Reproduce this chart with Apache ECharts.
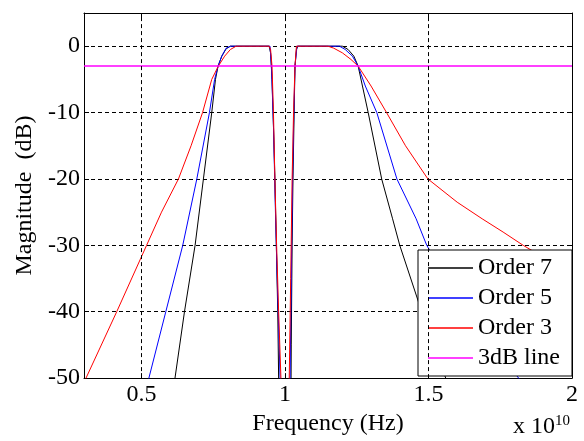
<!DOCTYPE html>
<html>
<head>
<meta charset="utf-8">
<script src="https://cdn.jsdelivr.net/npm/echarts@6/dist/echarts.min.js"></script>
<style>
  html, body { margin: 0; padding: 0; background: #fff; }
  #chart { width: 584px; height: 441px; }
</style>
</head>
<body>
<div id="chart"></div>
<script>
// frequency in units of 1e10 Hz, magnitude in dB
var order7 = [
    [0.600, -58], [0.617, -50], [0.650, -40], [0.687, -30], [0.716, -20], [0.745, -10],
    [0.758, -5], [0.767, -3], [0.780, -1.5], [0.795, -0.4], [0.810, 0], [0.945, 0],
    [0.950, -1], [0.955, -5], [0.960, -12], [0.965, -20], [0.970, -30], [0.975, -40],
    [0.978, -50], [0.980, -60],
    [1.020, -60], [1.022, -45], [1.025, -30], [1.028, -20], [1.032, -10], [1.035, -3],
    [1.040, -0.5], [1.045, 0], [1.200, 0], [1.220, -0.5], [1.240, -1.5], [1.255, -3],
    [1.270, -6], [1.290, -10], [1.337, -20], [1.375, -26], [1.400, -30], [1.465, -38.5],
    [1.510, -44], [1.560, -50], [1.600, -55]
];
var order5 = [
    [0.520, -55], [0.526, -50], [0.585, -40], [0.644, -30], [0.693, -20], [0.737, -10],
    [0.755, -5], [0.767, -3], [0.780, -1.5], [0.795, -0.3], [0.810, 0], [0.948, 0],
    [0.953, -3], [0.960, -12], [0.967, -25], [0.973, -35], [0.980, -45], [0.983, -50],
    [0.985, -60],
    [1.015, -60], [1.018, -50], [1.022, -35], [1.026, -22], [1.030, -12], [1.035, -3],
    [1.042, 0], [1.190, 0], [1.210, -0.5], [1.235, -1.5], [1.255, -3], [1.280, -6],
    [1.320, -10], [1.390, -20], [1.457, -26], [1.494, -30], [1.550, -34], [1.620, -39],
    [1.700, -44], [1.760, -47], [1.814, -50], [1.850, -52]
];
var order3 = [
    [0.300, -51], [0.307, -50], [0.414, -40], [0.518, -30], [0.570, -25], [0.629, -20],
    [0.673, -15], [0.713, -10], [0.745, -5], [0.768, -3], [0.790, -1.5], [0.810, -0.5],
    [0.830, 0], [0.945, 0], [0.950, -0.5], [0.955, -3], [0.960, -10], [0.965, -20],
    [0.971, -30], [0.978, -40], [0.986, -50], [0.990, -60],
    [1.010, -60], [1.015, -50], [1.020, -35], [1.025, -20], [1.030, -10], [1.035, -3],
    [1.040, 0], [1.150, 0], [1.170, -0.3], [1.200, -1], [1.230, -2], [1.255, -3],
    [1.300, -6], [1.354, -10], [1.420, -15], [1.498, -20], [1.600, -23.5], [1.687, -26],
    [1.760, -28], [1.830, -30], [1.920, -32.3], [2.000, -34.3]
];
var line3dB = [[0.3, -3], [2.0, -3]];

var xTicks = [0.5, 1, 1.5, 2];
var xGridLines = [0.5, 1, 1.5];
var seriesNames = ['Order 7', 'Order 5', 'Order 3', '3dB line'];

var font = 'Liberation Serif';
var chart = echarts.init(document.getElementById('chart'));

function curve(name, data, color, width) {
    return {
        name: name,
        type: 'line',
        data: data,
        symbol: 'none',
        xAxisIndex: 0,
        yAxisIndex: 0,
        lineStyle: {color: color, width: width || 1},
        itemStyle: {color: color},
        clip: true
    };
}

var option = {
    animation: false,
    backgroundColor: '#fff',
    grid: {left: 84, top: 13, right: 12, bottom: 61},
    textStyle: {fontFamily: font},
    legend: {
        data: seriesNames,
        orient: 'vertical',
        left: 418,
        top: 250,
        icon: 'rect',
        itemWidth: 45,
        itemHeight: 1.5,
        itemGap: 6,
        padding: [6, 12, 6, 10],
        backgroundColor: '#fff',
        borderColor: '#000',
        borderWidth: 1,
        itemStyle: {borderWidth: 0},
        lineStyle: {width: 0},
        textStyle: {fontFamily: font, fontSize: 24, color: '#000', lineHeight: 24}
    },
    xAxis: [{
        type: 'value',
        min: 0.3,
        max: 2,
        name: 'Frequency (Hz)',
        nameLocation: 'middle',
        nameGap: 28,
        nameTextStyle: {fontFamily: font, fontSize: 24, color: '#000'},
        axisLine: {show: true, onZero: false, lineStyle: {color: '#000', width: 1}},
        axisTick: {show: true, inside: true, length: 5, customValues: xTicks, lineStyle: {color: '#000'}},
        axisLabel: {customValues: xTicks, margin: 5, fontFamily: font, fontSize: 24, color: '#000'},
        splitLine: {show: false}
    }, {
        type: 'value',
        position: 'top',
        min: 0.3,
        max: 2,
        axisLine: {show: true, onZero: false, lineStyle: {color: '#000', width: 1}},
        axisTick: {show: true, inside: true, length: 5, customValues: xTicks, lineStyle: {color: '#000'}},
        axisLabel: {show: false},
        splitLine: {show: false}
    }],
    yAxis: [{
        type: 'value',
        min: -50,
        max: 5,
        interval: 10,
        name: 'Magnitude  (dB)',
        nameLocation: 'middle',
        nameGap: 42,
        nameTextStyle: {fontFamily: font, fontSize: 24, color: '#000'},
        axisLine: {show: true, onZero: false, lineStyle: {color: '#000', width: 1}},
        axisTick: {show: true, inside: true, length: 5, lineStyle: {color: '#000'}},
        axisLabel: {margin: 4, showMaxLabel: false, fontFamily: font, fontSize: 24, color: '#000'},
        splitLine: {show: true, lineStyle: {color: '#000', type: [4, 3], width: 1}}
    }, {
        type: 'value',
        position: 'right',
        min: -50,
        max: 5,
        interval: 10,
        axisLine: {show: true, onZero: false, lineStyle: {color: '#000', width: 1}},
        axisTick: {show: true, inside: true, length: 5, lineStyle: {color: '#000'}},
        axisLabel: {show: false},
        splitLine: {show: false}
    }],
    graphic: [{
        type: 'text',
        left: 513,
        top: 414,
        style: {
            text: '{a|x 10}{b|10}',
            rich: {
                a: {fontFamily: font, fontSize: 24, fill: '#000', verticalAlign: 'bottom'},
                b: {fontFamily: font, fontSize: 15, fill: '#000', verticalAlign: 'top', padding: [0, 0, 10, 0]}
            }
        }
    }],
    series: [
        {
            name: 'grid',
            type: 'line',
            data: [],
            xAxisIndex: 0,
            yAxisIndex: 0,
            markLine: {
                silent: true,
                symbol: ['none', 'none'],
                label: {show: false},
                lineStyle: {color: '#000', type: [4, 3], width: 1},
                data: xGridLines.map(function (v) { return {xAxis: v}; })
            }
        },
        curve('Order 7', order7, '#000000'),
        curve('Order 5', order5, '#0000ff'),
        curve('Order 3', order3, '#ff0000'),
        curve('3dB line', line3dB, '#ff00ff', 1.5)
    ]
};

chart.setOption(option);
</script>
</body>
</html>
